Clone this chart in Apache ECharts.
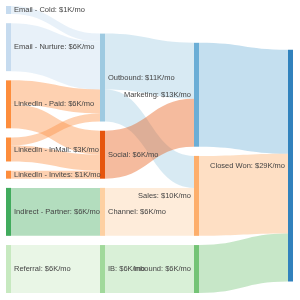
<!DOCTYPE html>
<html>
<head>
<meta charset="utf-8">
<script src="https://cdn.jsdelivr.net/npm/echarts@6/dist/echarts.min.js"></script>
<style>html,body{margin:0;padding:0;background:#fff}#chart{width:300px;height:300px}</style>
</head>
<body>
<div id="chart"></div>
<script>
const nodeNames = ['Email - Cold','Email - Nurture','LinkedIn - Paid','LinkedIn - InMail','LinkedIn - Invites','Indirect - Partner','Referral','Outbound','Social','Channel','IB','Marketing','Sales','Inbound','Closed Won'];
const nodeColors = ['#c6dbef','#c6dbef','#fd8d3c','#fd8d3c','#fd8d3c','#41ab5d','#c7e9c0','#9ecae1','#e6550d','#fdd0a2','#a1d99b','#6baed6','#fdae6b','#74c476','#3182bd'];
const linkSources = ['Email - Cold','Email - Nurture','LinkedIn - Paid','LinkedIn - Paid','LinkedIn - InMail','LinkedIn - InMail','LinkedIn - Invites','Indirect - Partner','Referral','Outbound','Outbound','Social','Channel','IB','Marketing','Sales','Inbound'];
const linkTargets = ['Outbound','Outbound','Outbound','Social','Outbound','Social','Social','Channel','IB','Marketing','Sales','Marketing','Sales','Inbound','Closed Won','Closed Won','Closed Won'];
const linkValues = [1,6,3,3,1,2,1,6,6,7,4,6,6,6,13,10,6];

// layout settings
const W = 300, H = 300;
const PAD = {left:6, top:6, right:7, bottom:7};
const NODE_GAP = 9.2;

// Node placement rule (computed from the data, keeps the data order):
// first column stacked from the top, middle columns stacked from the bottom,
// the sink column centred on the value-weighted centre of its sources.
function computeNodeY(){
  const H0 = H - PAD.top - PAD.bottom;
  const N = nodeNames.map((name,index)=>({name,index,ins:[],outs:[],layer:0}));
  const byName = {}; N.forEach(n=>byName[n.name]=n);
  linkValues.forEach((v,i)=>{const s=byName[linkSources[i]],t=byName[linkTargets[i]];s.outs.push({n:t,v});t.ins.push({n:s,v});});
  N.forEach(n=>{n.value=Math.max(n.ins.reduce((a,e)=>a+e.v,0),n.outs.reduce((a,e)=>a+e.v,0));});
  let changed=true;
  while(changed){changed=false;N.forEach(n=>n.outs.forEach(e=>{if(e.n.layer<n.layer+1){e.n.layer=n.layer+1;changed=true;}}));}
  const last=Math.max(...N.map(n=>n.layer));
  N.forEach(n=>{if(!n.outs.length)n.layer=last;});
  const cols=[];N.forEach(n=>(cols[n.layer]=cols[n.layer]||[]).push(n));
  const ky=Math.min(...cols.map(c=>(H0-(c.length-1)*NODE_GAP)/c.reduce((a,n)=>a+n.value,0)));
  cols.forEach((c,ci)=>{
    if(ci===0){let y=0;c.forEach(n=>{n.y=y;y+=n.value*ky+NODE_GAP;});}
    else if(ci<last){let y=H0;for(let k=c.length-1;k>=0;k--){const n=c[k];y-=n.value*ky;n.y=y;y-=NODE_GAP;}}
    else{c.forEach(n=>{let s=0,w=0;n.ins.forEach(e=>{s+=(e.n.y+e.n.value*ky/2)*e.v;w+=e.v;});n.y=Math.max(0,Math.min(H0-n.value*ky,s/w-n.value*ky/2));});}
  });
  return N.map(n=>n.layer===0?null:n.y/H0);
}
const nodeY = computeNodeY();

const nodes = nodeNames.map((n,i)=>{
  const d = {name:n, itemStyle:{color:nodeColors[i], borderWidth:0}, label:{position: i>=11 ? 'left' : 'right'}};
  if(nodeY[i]!=null) d.localY = nodeY[i];
  return d;
});
const links = linkSources.map((s,i)=>({source:s,target:linkTargets[i],value:linkValues[i]}));

const chart = echarts.init(document.getElementById('chart'), null, {renderer:'canvas'});
chart.setOption({
  animation:false,
  backgroundColor:'#fff',
  series:[{
    type:'sankey',
    left:PAD.left, top:PAD.top, right:PAD.right, bottom:PAD.bottom,
    nodeWidth:5,
    nodeGap:NODE_GAP,
    layoutIterations:0,
    draggable:false,
    emphasis:{disabled:true},
    data:nodes,
    links:links,
    label:{
      show:true,
      fontFamily:'Liberation Sans, Arial, sans-serif',
      fontSize:7.5,
      color:'#444',
      distance:3,
      formatter:p=>p.name+': $'+p.value+'K/mo'
    },
    lineStyle:{color:'source', opacity:0.4, curveness:0.5}
  }]
});
</script>
</body>
</html>
